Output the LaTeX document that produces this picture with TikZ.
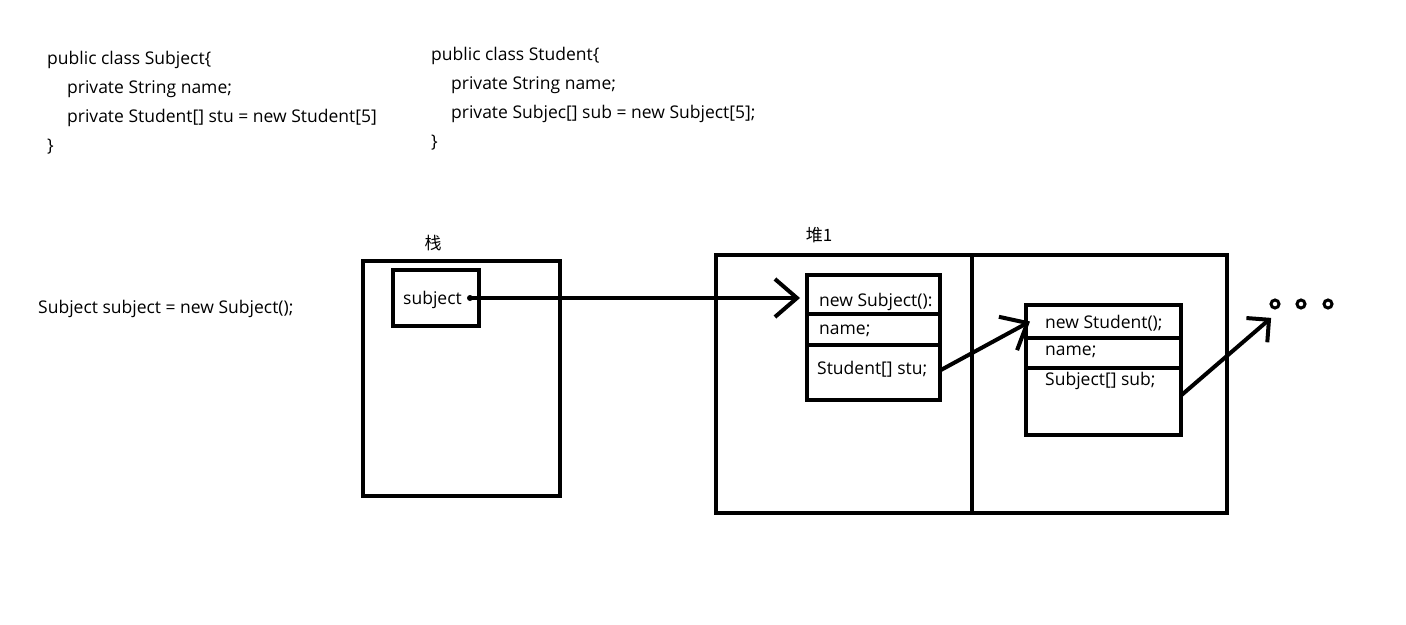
\documentclass[tikz,border=0pt]{standalone}
\usepackage{fontspec}
\setmainfont{Open Sans}
\newfontfamily\cjk{Noto Sans CJK SC}
\usetikzlibrary{arrows.meta, positioning}

\begin{document}
\begin{tikzpicture}[
    x=1pt, y=-1pt,
    font=\fontsize{17.5}{29}\selectfont,
    code/.style={anchor=north west, inner sep=0pt, align=left},
    frame/.style={rectangle, draw=black, line width=4pt, inner sep=0pt, outer sep=0pt},
    cell/.style={rectangle, draw=black, line width=3.5pt, inner sep=0pt, outer sep=0pt},
    field/.style={anchor=west, inner sep=0pt},
    dot/.style={circle, draw=black, line width=3pt, fill=white, inner sep=0pt, minimum size=8pt},
    ref/.style={-{Straight Barb[length=22pt, width=38pt]}, line width=4pt, line cap=round}
]
\useasboundingbox (0,0) rectangle (1406,624);

% class sources
\node[code] (srcsubject) at (47,51) {public class Subject\{\\
\hspace*{20pt}private String name;\\
\hspace*{20pt}private Student[] stu = new Student[5]\\
\}};
\node[code] (srcstudent) at (431,47) {public class Student\{\\
\hspace*{20pt}private String name;\\
\hspace*{20pt}private Subjec[] sub = new Subject[5];\\
\}};

\node[field] (stmt) at (38,309) {Subject subject = new Subject();};

% stack
\node[font=\cjk\fontsize{17}{20}\selectfont] (stacklbl) at (433,243) {栈};
\node[frame, minimum width=197pt, minimum height=235pt] (stack) at (461.5,378.5) {};
\node[frame, minimum width=86pt, minimum height=56pt] (var) at (436,298) {};
\node[field] (varname) at (403,300) {subject};
\fill (470,298) circle (3pt) coordinate (vardot);

% heap
\node[font=\cjk\fontsize{17}{20}\selectfont] (heaplbl) at (819,235) {堆1};
\node[frame, minimum width=511pt, minimum height=258pt] (heap) at (971.5,384) {};
\draw[line width=4pt] (heap.north) -- (heap.south);

% Subject object
\node[cell, minimum width=133pt, minimum height=39pt] (subhead) at (873.5,294.5) {};
\node[cell, minimum width=133pt, minimum height=31pt, below=0pt of subhead] (subname) {};
\node[cell, minimum width=133pt, minimum height=55pt, below=0pt of subname] (substu) {};
\node[field] (t11) at (819,302) {new Subject():};
\node[field] (t12) at (819,331) {name;};
\node[field] (t13) at (817,369) {Student[] stu;};

% Student object
\node[cell, minimum width=155pt, minimum height=33pt] (stuhead) at (1103.5,321.5) {};
\node[cell, minimum width=155pt, minimum height=30pt, below=0pt of stuhead] (stuname) {};
\node[cell, minimum width=155pt, minimum height=67pt, below=0pt of stuname] (stusub) {};
\node[field] (t21) at (1045,323) {new Student();};
\node[field] (t22) at (1045,352) {name;};
\node[field] (t23) at (1045,381) {Subject[] sub;};

% more objects
\node[dot] (d1) at (1275,304) {};
\node[dot, right=15pt of d1] (d2) {};
\node[dot, right=16pt of d2] (d3) {};

\draw[ref] (vardot) -- ([xshift=-7pt]vardot -| subhead.west);
\draw[ref] ([yshift=2pt]substu.east) -- ([xshift=4pt]stuhead.west);
\draw[ref, -{Straight Barb[length=16pt, width=32pt]}] ([yshift=6pt]stusub.east) -- ([yshift=-10pt]d1.south west);

\end{tikzpicture}
\end{document}
